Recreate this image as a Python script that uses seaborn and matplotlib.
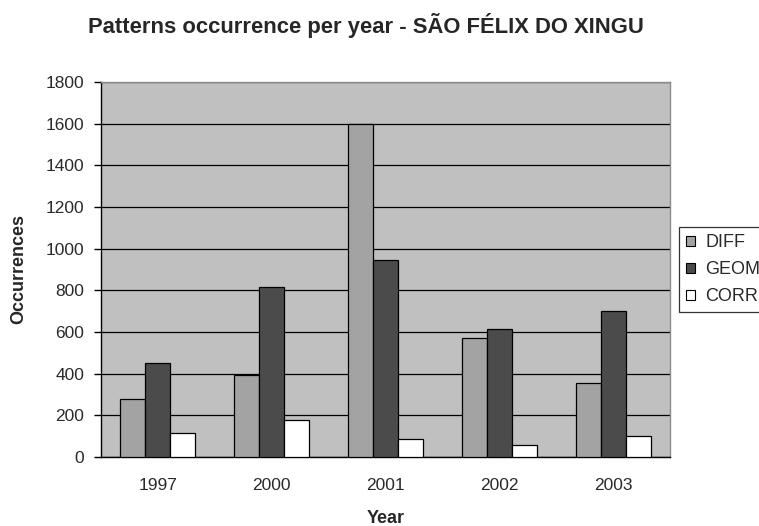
import matplotlib
matplotlib.use("Agg")
import matplotlib.pyplot as plt
import seaborn as sns
import pandas as pd
from matplotlib.patches import Patch

years = ["1997", "2000", "2001", "2002", "2003"]
series = ["DIFF", "GEOM", "CORR"]
diff = [278, 393, 1600, 571, 355]
geom = [450, 815, 946, 614, 700]
corr = [115, 179, 86, 59, 102]
colors = ["#A3A3A3", "#4B4B4B", "#FFFFFF"]

df = pd.DataFrame({
    "Year": years * 3,
    "Pattern": [s for s in series for _ in years],
    "Occurrences": diff + geom + corr,
})

sns.set_style("white")
plt.rcParams["font.family"] = ["Liberation Sans", "DejaVu Sans"]

fig = plt.figure(figsize=(7.59, 5.26), dpi=100)
ax = fig.add_axes([101 / 759, 1 - 457 / 526, 569 / 759, 375 / 526])
ax.set_facecolor("#C0C0C0")

sns.barplot(data=df, x="Year", y="Occurrences", hue="Pattern",
            hue_order=series, palette=colors, width=0.66, gap=0,
            edgecolor="black", linewidth=0.9, saturation=1,
            legend=False, ax=ax, zorder=3)

ax.set_ylim(0, 1800)
ax.set_yticks(range(0, 1801, 200))
ax.set_xlim(-0.5, 4.5)
ax.yaxis.grid(True, color="black", linewidth=0.9, zorder=0)
ax.set_axisbelow(True)

for side in ("left", "bottom"):
    ax.spines[side].set_color("black")
    ax.spines[side].set_linewidth(1.0)
for side in ("top", "right"):
    ax.spines[side].set_color("#8C8C8C")
    ax.spines[side].set_linewidth(1.0)

ax.set_xticks([i - 0.5 for i in range(6)], minor=True)
ax.tick_params(axis="x", which="major", length=0, pad=15, labelsize=12.5, labelcolor="#2A2A2A")
ax.tick_params(axis="x", which="minor", length=5, width=1, color="black", direction="out")
ax.tick_params(axis="y", length=5, width=1, color="black", direction="out", labelsize=12.5,
               labelcolor="#2A2A2A", left=True, pad=7)

ax.set_xlabel("Year", fontsize=13, fontweight="bold", labelpad=12.5)
ax.set_ylabel("Occurrences", fontsize=13, fontweight="bold", labelpad=13)

fig.text(365.5 / 759, 1 - 25 / 526, "Patterns occurrence per year - SÃO FÉLIX DO XINGU",
         ha="center", va="center", fontsize=15.8, fontweight="bold")

handles = [Patch(facecolor=c, edgecolor="black", linewidth=0.8) for c in colors]
leg = fig.legend(handles, series, loc="upper left",
                 bbox_to_anchor=(679 / 759, 1 - 227 / 526),
                 frameon=True, fancybox=False, fontsize=13,
                 handlelength=0.5, handleheight=0.5, handletextpad=0.55,
                 labelspacing=0.55, borderpad=0.4, borderaxespad=0)
leg.get_frame().set_edgecolor("black")
leg.get_frame().set_linewidth(0.9)
for t in leg.get_texts():
    t.set_color("#2A2A2A")

fig.savefig("out.png", dpi=100)
